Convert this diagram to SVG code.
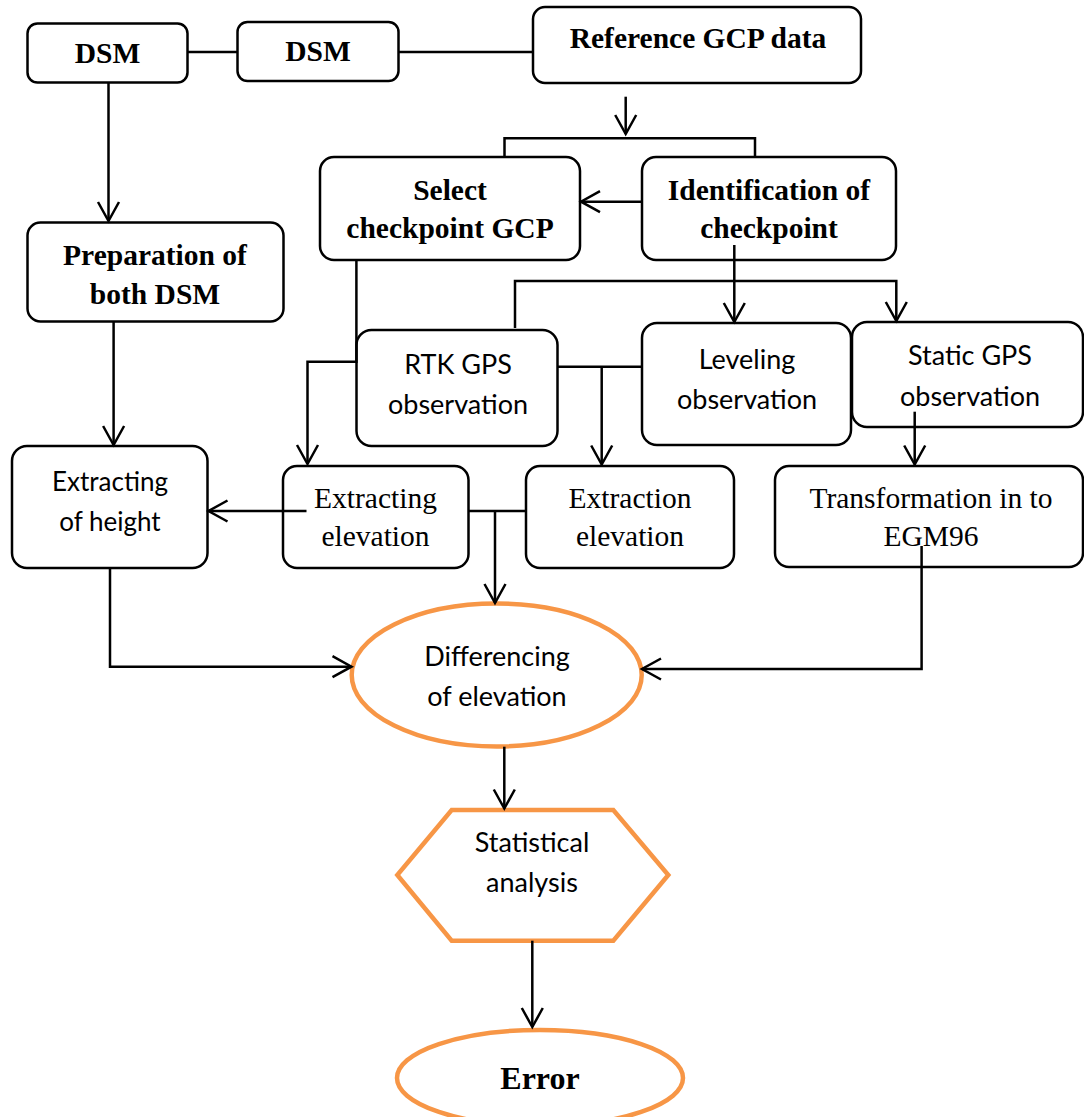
<svg xmlns="http://www.w3.org/2000/svg" width="1084" height="1117" viewBox="0 0 1084 1117">
<defs>
<marker id="arr" markerUnits="userSpaceOnUse" markerWidth="24" markerHeight="24" viewBox="0 0 24 24" refX="20" refY="11" orient="auto" overflow="visible">
<path d="M1,0.5 L20,11 L1,21.5" fill="none" stroke="#000" stroke-width="2.5"/>
</marker>
<style>
.box{fill:#fff;stroke:#000;stroke-width:2.5}
.orange{fill:#fff;stroke:#F79646;stroke-width:4.5}
.bs{font-family:"Liberation Serif","Times New Roman",serif;font-weight:bold;font-size:29.5px;text-anchor:middle;fill:#000}
.rs{font-family:"Liberation Serif","Times New Roman",serif;font-size:29.5px;text-anchor:middle;fill:#000}
.sl{font-family:Lato,"Open Sans",sans-serif;font-size:27px;text-anchor:middle;fill:#000}
.ss{font-family:Lato,"Open Sans",sans-serif;font-size:26px;text-anchor:middle;fill:#000}
.ln{fill:none;stroke:#000;stroke-width:2.5}
.la{fill:none;stroke:#000;stroke-width:2.5;marker-end:url(#arr)}
</style>
</defs>
<rect width="1084" height="1117" fill="#fff"/>

<g id="dsm1"><rect class="box" x="27.5" y="23.5" width="160" height="59" rx="10"/><text class="bs" x="107.5" y="63">DSM</text></g>
<g id="dsm2"><rect class="box" x="237.5" y="22" width="161" height="59" rx="10"/><text class="bs" x="318" y="61">DSM</text></g>
<g id="refgcp"><rect class="box" x="533" y="7" width="328" height="76" rx="12"/><text class="bs" x="698" y="48">Reference GCP data</text></g>
<g id="prep"><rect class="box" x="27.5" y="222.5" width="256" height="99" rx="13"/><text class="bs" x="155" y="265">Preparation of</text><text class="bs" x="155" y="304">both DSM</text></g>
<g id="select"><rect class="box" x="320" y="157" width="260" height="103" rx="14"/><text class="bs" x="450" y="200">Select</text><text class="bs" x="450" y="238">checkpoint GCP</text></g>
<g id="ident"><rect class="box" x="642" y="157" width="254" height="103" rx="14"/><text class="bs" x="769" y="200">Identification of</text><text class="bs" x="769" y="238">checkpoint</text></g>
<g id="rtk"><rect class="box" x="356.5" y="330" width="201" height="116" rx="15"/><text class="sl" x="458" y="374">RTK GPS</text><text class="sl" x="458" y="414">observation</text></g>
<g id="leveling"><rect class="box" x="642" y="323" width="209" height="122" rx="15"/><text class="sl" x="747" y="369">Leveling</text><text class="sl" x="747" y="409">observation</text></g>
<g id="static"><rect class="box" x="852" y="322" width="231" height="105" rx="15"/><text class="sl" x="970" y="365">Static GPS</text><text class="sl" x="970" y="406">observation</text></g>
<g id="exth"><rect class="box" x="12" y="446" width="195.5" height="122" rx="15"/><text class="ss" x="110" y="491">Extracting</text><text class="ss" x="110" y="531">of height</text></g>
<g id="extelev"><rect class="box" x="283" y="466" width="185.5" height="102" rx="14"/><text class="rs" x="375.5" y="508">Extracting</text><text class="rs" x="375.5" y="546">elevation</text></g>
<g id="extrelev"><rect class="box" x="526" y="466" width="208" height="102" rx="14"/><text class="rs" x="630" y="508">Extraction</text><text class="rs" x="630" y="546">elevation</text></g>
<g id="transf"><rect class="box" x="775" y="466" width="308" height="101" rx="14"/><text class="rs" x="931" y="508">Transformation in to</text><text class="rs" x="931" y="546">EGM96</text></g>
<g id="diff"><ellipse class="orange" cx="496.7" cy="675" rx="145" ry="71.5"/><text class="sl" x="497" y="666">Differencing</text><text class="sl" x="497" y="706">of elevation</text></g>
<g id="stat"><polygon class="orange" points="451.7,810 613.3,810 668.3,875 613.3,940.7 451.7,940.7 397.3,875"/><text class="sl" x="532" y="852">Statistical</text><text class="sl" x="532" y="892">analysis</text></g>
<g id="error"><ellipse class="orange" cx="540" cy="1078" rx="143" ry="48"/><text class="bs" x="540" y="1089" style="font-size:32px">Error</text></g>

<g id="connectors">
<line class="ln" x1="187.5" y1="52" x2="237.5" y2="52"/>
<line class="ln" x1="398.5" y1="52" x2="533" y2="52"/>
<line class="la" x1="108.5" y1="82.5" x2="108.5" y2="221"/>
<line class="la" x1="625.7" y1="96.7" x2="625.7" y2="134"/>
<polyline class="ln" points="504.5,157 504.5,138.3 755,138.3 755,157"/>
<line class="la" x1="642" y1="201.7" x2="581" y2="201.7"/>
<line class="la" x1="734.3" y1="245" x2="734.3" y2="322"/>
<polyline class="la" points="515,328 515,281 896.3,281 896.3,321"/>
<polyline class="la" points="356.4,260 356.4,361.7 307.5,361.7 307.5,464"/>
<line class="la" x1="113.6" y1="321.5" x2="113.6" y2="445"/>
<line class="la" x1="306.5" y1="511" x2="208.5" y2="511"/>
<line class="ln" x1="557.5" y1="366.7" x2="642" y2="366.7"/>
<line class="la" x1="601.7" y1="366.7" x2="601.7" y2="464.5"/>
<line class="ln" x1="468.5" y1="511" x2="526" y2="511"/>
<line class="la" x1="495" y1="511" x2="495" y2="603"/>
<line class="la" x1="914.7" y1="411.7" x2="914.7" y2="464.5"/>
<polyline class="la" points="110,568 110,666.7 351.5,666.7"/>
<polyline class="la" points="921.6,546 921.6,669 642,669"/>
<line class="la" x1="504.3" y1="746.7" x2="504.3" y2="808.5"/>
<line class="la" x1="532.3" y1="940.7" x2="532.3" y2="1027"/>
</g>
</svg>
